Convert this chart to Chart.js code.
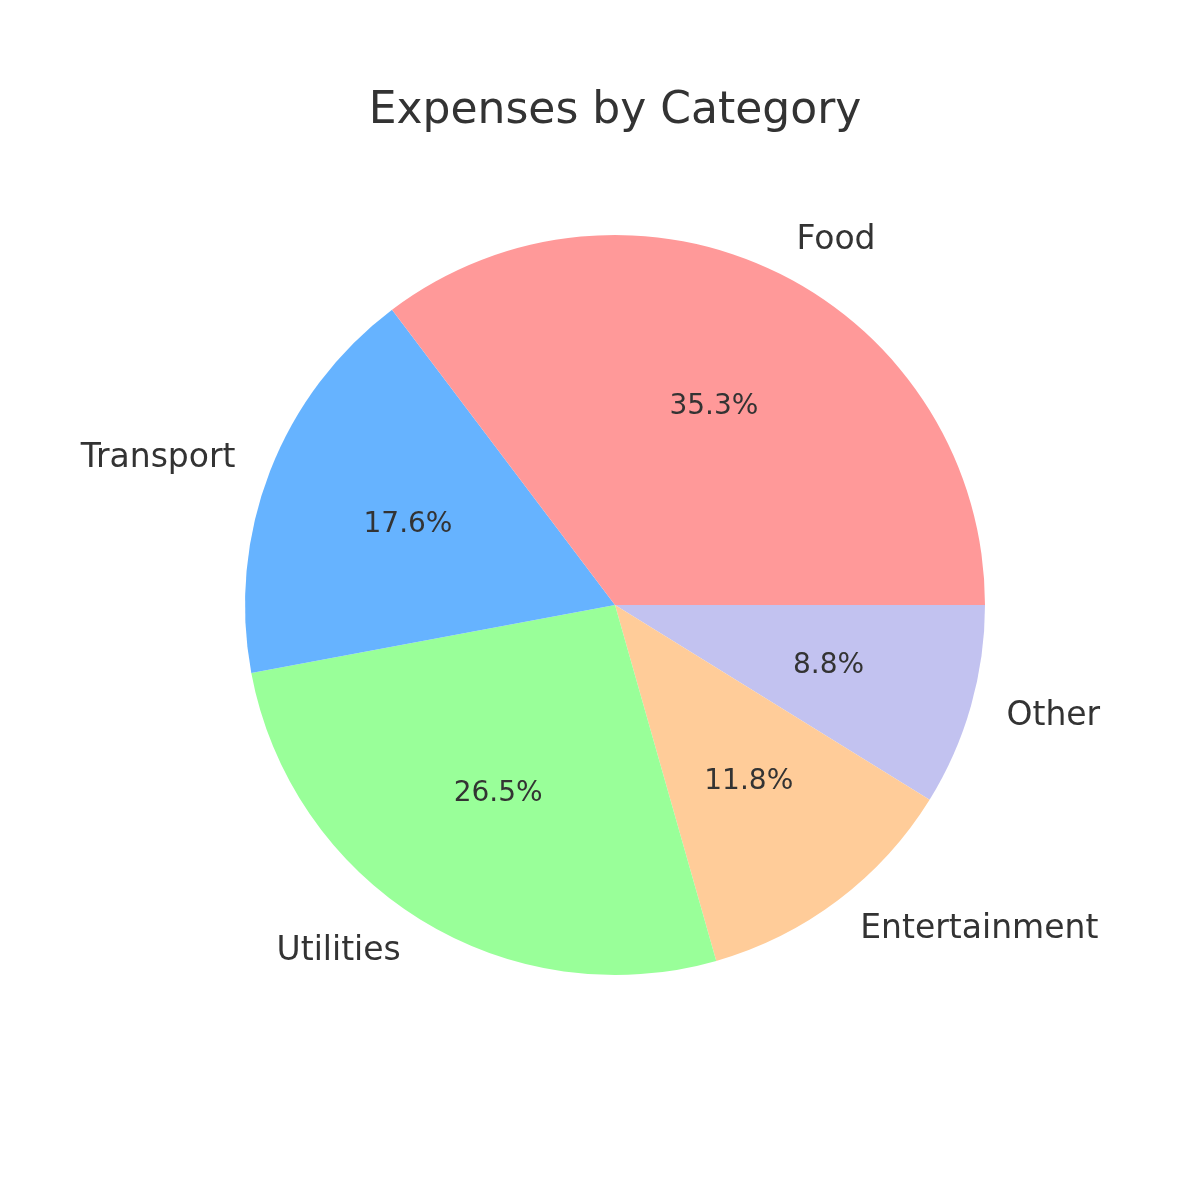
<!DOCTYPE html>
<html>
<head>
<meta charset="utf-8">
<script src="https://cdn.jsdelivr.net/npm/chart.js@4/dist/chart.umd.min.js"></script>
<style>
  html, body { margin: 0; padding: 0; background: #fff; }
  canvas { display: block; }
</style>
</head>
<body>
<canvas id="chart" width="1200" height="1200"></canvas>
<script>
// Chart data
var categories = ['Food', 'Transport', 'Utilities', 'Entertainment', 'Other'];
var amounts = [1200, 600, 900, 400, 300];
var colors = ['#ff9999', '#66b3ff', '#99ff99', '#ffcc99', '#c2c2f0'];
var chartTitle = 'Expenses by Category';

// matplotlib draws counter-clockwise from 3 o'clock, Chart.js clockwise,
// so hand the slices over in reverse order
var order = categories.map(function (c, i) { return i; }).reverse();
var total = amounts.reduce(function (a, b) { return a + b; }, 0);

// Draws the title, outer labels and percentages
var pieText = {
    id: 'pieText',
    afterDraw: function (chart) {
        var ctx = chart.ctx;
        ctx.save();
        ctx.fillStyle = '#333333';
        ctx.textBaseline = 'middle';
        ctx.textAlign = 'center';
        ctx.font = '44px "DejaVu Sans"';
        ctx.fillText(chartTitle, 615, 112);

        chart.getDatasetMeta(0).data.forEach(function (arc, i) {
            var idx = order[i];
            var mid = (arc.startAngle + arc.endAngle) / 2;
            var r = arc.outerRadius;
            var lx = arc.x + Math.cos(mid) * r * 1.1;
            var ly = arc.y + Math.sin(mid) * r * 1.1;
            ctx.font = '33px "DejaVu Sans"';
            ctx.textAlign = Math.cos(mid) >= 0 ? 'left' : 'right';
            ctx.fillText(categories[idx], lx, ly);

            var px = arc.x + Math.cos(mid) * r * 0.6;
            var py = arc.y + Math.sin(mid) * r * 0.6;
            ctx.font = '28px "DejaVu Sans"';
            ctx.textAlign = 'center';
            ctx.fillText((amounts[idx] / total * 100).toFixed(1) + '%', px, py);
        });
        ctx.restore();
    }
};

new Chart(document.getElementById('chart').getContext('2d'), {
    type: 'pie',
    data: {
        labels: order.map(function (i) { return categories[i]; }),
        datasets: [{
            data: order.map(function (i) { return amounts[i]; }),
            backgroundColor: order.map(function (i) { return colors[i]; }),
            borderWidth: 0
        }]
    },
    options: {
        responsive: false,
        devicePixelRatio: 1,
        animation: false,
        rotation: 90,
        layout: { padding: { left: 245, right: 215, top: 235, bottom: 225 } },
        plugins: {
            legend: { display: false },
            tooltip: { enabled: false }
        }
    },
    plugins: [pieText]
});
</script>
</body>
</html>
